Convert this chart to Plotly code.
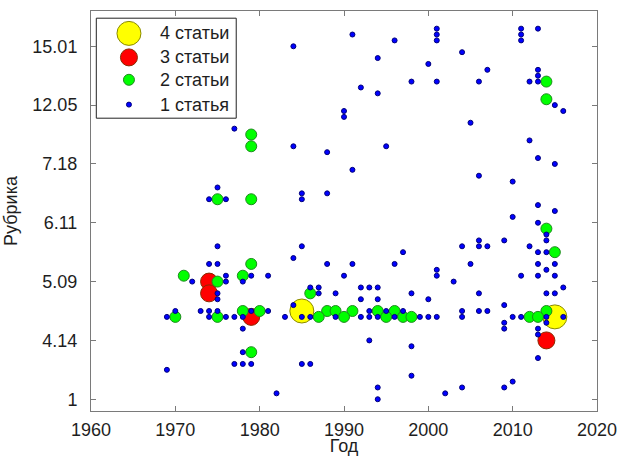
import plotly.graph_objects as go

# Rubric tick positions and their labels
rubric_ticks = [1, 11, 21, 31, 41, 51, 61]
rubric_labels = ["1", "4.14", "5.09", "6.11", "7.18", "12.05", "15.01"]
year_ticks = [1960, 1970, 1980, 1990, 2000, 2010, 2020]

# Four articles per (year, rubric)
years_4 = [1985, 2015]
rubric_4 = [16, 15]

# Three articles
years_3 = [1974, 1974, 1979, 2014]
rubric_3 = [21, 19, 15, 11]

# Two articles
years_2 = [1979, 1979, 1975, 1979, 2014, 2014, 2014, 2015,
           1979, 1971, 1978, 1975, 1986,
           1978, 1980, 1988, 1989, 1991, 1994, 1996, 2014,
           1970, 1975, 1987, 1990, 1995, 1997, 1998, 2012, 2013,
           1979]
rubric_2 = [46, 44, 35, 35, 55, 52, 30, 26,
            24, 22, 22, 21, 19,
            16, 16, 16, 16, 16, 16, 16, 16,
            15, 15, 15, 15, 15, 15, 15, 15, 15,
            9]

# One article
years_1 = [1984, 1977, 1984, 1975, 1974, 1976, 1985, 1985,
           1991, 1996, 1994, 2001, 2001, 2001, 2004, 2000, 2007,
           2011, 2011, 2011, 2013, 2013, 2013, 2013, 2012, 2006,
           2001, 1998, 1992, 1994, 2015, 2016, 1990, 1990, 2005,
           1988, 1995, 1991, 2012, 2013, 2015, 2006, 2010, 1988,
           2013, 2015, 2010, 2013,
           1985, 2014, 2014, 2013, 2014, 2012, 2009, 2006, 2006,
           2007, 2004, 1997, 1988, 1991, 1996, 2005, 2013, 2015,
           1990, 2001, 2001, 2011, 2013, 2014, 2015, 2003, 2016,
           1986, 1987, 1992, 1993, 1994, 1987, 1989, 1998, 2006,
           2014, 2015, 1992, 1994, 2000, 2009,
           1993, 1995, 1997, 2004, 2006, 2007,
           1985, 1986, 1989, 1992, 1993, 1994, 1996, 1999, 2000,
           2001, 2004, 2010, 2011, 2014, 2016,
           2009, 2009, 2013, 2014, 2013, 1993, 1998, 2013, 1985,
           1986, 1998, 1994, 1994, 2004, 2009, 2010, 2002,
           1975, 1984, 1974, 1975, 1976, 1979, 1981, 1972, 1976,
           1978, 1975, 1975, 1984,
           1970, 1973, 1974, 1975, 1979, 1981,
           1969, 1974, 1976, 1977, 1978, 1983,
           1978, 1978, 1977, 1978, 1979, 1969, 1982]
rubric_1 = [61, 47, 44, 37, 35, 35, 36, 35,
            63, 62, 59, 64, 63, 62, 60, 58, 57,
            64, 63, 62, 64, 57, 56, 55, 55, 55,
            55, 55, 54, 53, 51, 50, 50, 49, 48,
            43, 44, 40, 45, 42, 41, 39, 38, 36,
            34, 33, 32, 31,
            27, 29, 28, 26, 26, 27, 28, 28, 27,
            27, 27, 26, 24, 24, 24, 24, 24, 24,
            22, 23, 22, 22, 22, 23, 22, 21, 20,
            20, 20, 20, 20, 20, 19, 19, 19, 19,
            19, 19, 18, 18, 18, 17,
            16, 16, 16, 16, 16, 16,
            15, 15, 15, 15, 15, 15, 15, 15, 15,
            15, 15, 15, 15, 15, 15,
            14, 13, 13, 14, 12, 11, 10, 8, 7,
            7, 5, 3, 1, 3, 3, 4, 2,
            27, 25, 24, 24, 22, 22, 22, 21, 21,
            21, 19, 18, 17,
            16, 16, 16, 16, 16, 16,
            15, 15, 15, 15, 15, 15,
            13, 9, 7, 7, 7, 6, 2]

legend_labels = ["4 статьи", "3 статьи", "2 статьи", "1 статья"]

styles = [
    dict(size=24, color="#ffff00", line=dict(color="#8a8a00", width=1)),
    dict(size=17, color="#ff0000", line=dict(color="#8a2a00", width=1)),
    dict(size=11, color="#00ff00", line=dict(color="#1f8a1f", width=1)),
    dict(size=5, color="#0000ff", line=dict(color="#00007a", width=1)),
]
groups = [(years_4, rubric_4), (years_3, rubric_3), (years_2, rubric_2), (years_1, rubric_1)]

FONT = "Liberation Sans, Arial, sans-serif"
TXT = "#1e1e1e"
AX = "#7a7a7a"

fig = go.Figure()

# Larger markers first so the smaller ones sit on top
for (xs, ys), st, name in zip(groups, styles, legend_labels):
    fig.add_trace(go.Scatter(x=xs, y=ys, mode="markers", marker=st,
                             name=name, showlegend=False, hoverinfo="x+y"))

# Hand-built legend on an overlay axis so key sizes follow the marker sizes
key_x = 0.075
key_y = [0.944, 0.884, 0.828, 0.766]
for st, ky, name in zip(styles, key_y, legend_labels):
    fig.add_trace(go.Scatter(x=[key_x], y=[ky], mode="markers", marker=st,
                             xaxis="x2", yaxis="y2", showlegend=False,
                             hoverinfo="skip"))
    fig.add_annotation(x=0.133, y=ky, xref="x2", yref="y2", text=name,
                       showarrow=False, xanchor="left", yanchor="middle",
                       font=dict(family=FONT, size=18, color=TXT))

fig.add_shape(type="rect", xref="x2", yref="y2", x0=0.0105, x1=0.287,
              y0=0.732, y1=0.982, line=dict(color="#222222", width=1),
              fillcolor="white", layer="below")

fig.update_layout(
    width=630, height=456,
    margin=dict(l=91, r=33, t=11, b=45),
    paper_bgcolor="white", plot_bgcolor="white",
    font=dict(family=FONT, size=18, color=TXT),
    xaxis=dict(range=[1960, 2020], tickvals=year_ticks, ticks="inside",
               ticklen=5, tickcolor=AX, showline=True, linecolor=AX,
               linewidth=1, mirror="ticks", showgrid=False, zeroline=False,
               tickfont=dict(size=18), ticklabelstandoff=2, automargin=False,
               title=dict(text="Год", standoff=3, font=dict(size=18))),
    yaxis=dict(range=[-1, 67], tickvals=rubric_ticks, ticktext=rubric_labels,
               ticks="inside", ticklen=5, tickcolor=AX, showline=True,
               linecolor=AX, linewidth=1, mirror="ticks", showgrid=False,
               zeroline=False, tickfont=dict(size=18), ticklabelstandoff=9,
               automargin=False,
               title=dict(text="Рубрика", standoff=10, font=dict(size=18))),
    xaxis2=dict(overlaying="x", range=[0, 1], visible=False),
    yaxis2=dict(overlaying="y", range=[0, 1], visible=False),
    showlegend=False,
)

fig.write_html("out.html")
